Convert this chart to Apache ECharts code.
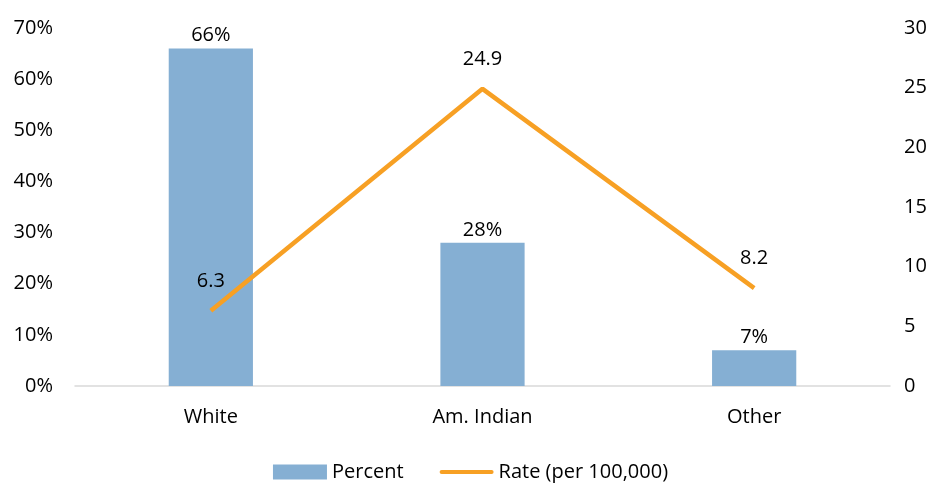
<!doctype html>
<html>
<head>
	<meta charset="utf-8">
	<title></title>
	<script src="https://cdn.jsdelivr.net/npm/echarts@6/dist/echarts.min.js"></script>
	<style>
		html, body { margin: 0; padding: 0; background: #fff; }
	</style>
</head>
<body>
	<div id="main" style="width: 941px;height:483px;"></div>
	<script type="text/javascript">
		var categories = ['White', 'Am. Indian', 'Other'];
		var percent = [66, 28, 7];
		var rate = [6.3, 24.9, 8.2];
		var leftTicks = [0, 70, 10];
		var rightTicks = [0, 30, 5];

		var font = 'Open Sans';
		var myChart = echarts.init(document.getElementById('main'));

		option = {
			animation: false,
			textStyle: { fontFamily: font },
			grid: { left: 75, right: 51, top: 28, bottom: 97 },
			legend: {
				top: 457,
				left: 'center',
				itemGap: 36,
				itemWidth: 54,
				itemHeight: 15,
				textStyle: { fontSize: 20, color: '#000', fontFamily: font },
				data: [
					{ name: 'Percent', icon: 'rect' },
					{ name: 'Rate (per 100,000)', icon: 'path://M2,0 L52,0 A2,2 0 0 1 52,4 L2,4 A2,2 0 0 1 2,0 Z' }
				]
			},
			xAxis: {
				type: 'category',
				data: categories,
				axisLine: { lineStyle: { color: '#d9d9d9', width: 1.5 } },
				axisTick: { show: false },
				axisLabel: { fontSize: 20, color: '#000', margin: 21 }
			},
			yAxis: [
				{
					type: 'value',
					min: leftTicks[0], max: leftTicks[1], interval: leftTicks[2],
					splitLine: { show: false },
					axisLine: { show: false },
					axisLabel: { fontSize: 20, color: '#000', margin: 22, formatter: '{value}%' }
				},
				{
					type: 'value',
					min: rightTicks[0], max: rightTicks[1], interval: rightTicks[2],
					splitLine: { show: false },
					axisLine: { show: false },
					axisLabel: { fontSize: 20, color: '#000', margin: 14 }
				}
			],
			series: [
				{
					name: 'Percent',
					type: 'bar',
					data: percent,
					barWidth: '31%',
					itemStyle: { color: '#85afd3' },
					label: { show: true, position: 'top', fontSize: 20, color: '#000', formatter: '{c}%', distance: 3 }
				},
				{
					name: 'Rate (per 100,000)',
					type: 'line',
					yAxisIndex: 1,
					data: rate,
					symbol: 'circle',
					symbolSize: 0,
					showSymbol: true,
					lineStyle: { color: '#f7a024', width: 4.5 },
					itemStyle: { color: '#f7a024' },
					label: { show: true, position: 'top', fontSize: 20, color: '#000', distance: 20 }
				}
			]
		};

		myChart.setOption(option);
	</script>
</body>
</html>
